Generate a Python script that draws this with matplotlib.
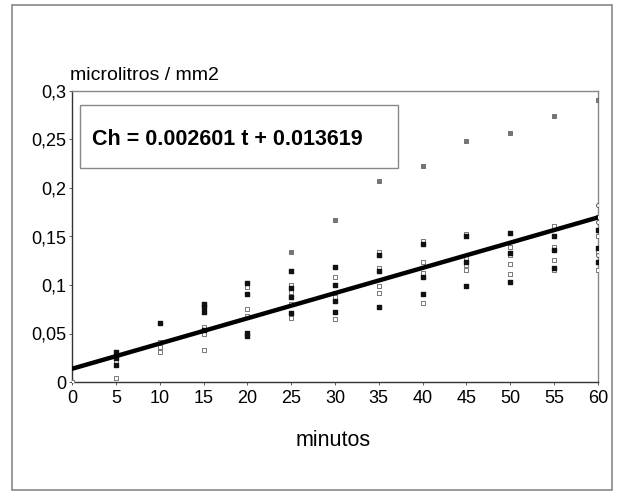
import matplotlib
matplotlib.use("Agg")
import matplotlib.pyplot as plt
import matplotlib.transforms as mtransforms
from matplotlib.patches import Rectangle
import numpy as np

plt.rcParams['font.family'] = ['Liberation Sans', 'DejaVu Sans']

t_filled = [5, 5, 5, 10, 15, 15, 15, 15, 20, 20, 20, 20, 25, 25, 25, 25,
            30, 30, 30, 30, 35, 35, 35, 40, 40, 40, 45, 45, 45,
            50, 50, 50, 55, 55, 55, 60, 60, 60]
v_filled = [0.031, 0.025, 0.018, 0.061, 0.080, 0.077, 0.072, 0.054, 0.102, 0.091, 0.051, 0.047,
            0.114, 0.097, 0.088, 0.071, 0.119, 0.100, 0.084, 0.072, 0.131, 0.114, 0.077,
            0.142, 0.108, 0.091, 0.150, 0.124, 0.099, 0.154, 0.133, 0.103,
            0.150, 0.136, 0.118, 0.157, 0.138, 0.124]

t_open = [0, 5, 5, 5, 10, 10, 10, 15, 15, 15, 20, 20, 20, 25, 25, 25, 25,
          30, 30, 30, 30, 35, 35, 35, 35, 40, 40, 40, 40, 45, 45, 45, 45,
          50, 50, 50, 50, 55, 55, 55, 55, 60, 60, 60, 60]
v_open = [0.0, 0.028, 0.022, 0.004, 0.041, 0.036, 0.031, 0.057, 0.050, 0.033,
          0.098, 0.075, 0.068, 0.100, 0.093, 0.080, 0.066, 0.108, 0.092, 0.088, 0.065,
          0.134, 0.118, 0.099, 0.092, 0.145, 0.124, 0.112, 0.081,
          0.153, 0.128, 0.121, 0.115, 0.139, 0.131, 0.122, 0.111,
          0.161, 0.139, 0.126, 0.115, 0.170, 0.150, 0.134, 0.115]

t_circle = [60, 60, 60]
v_circle = [0.182, 0.165, 0.131]

# outliers (grey filled)
t_high = [25, 30, 35, 40, 45, 50, 55, 60]
v_high = [0.134, 0.167, 0.207, 0.223, 0.248, 0.257, 0.274, 0.291]

slope = 0.002601
intercept = 0.013619

fig = plt.figure(figsize=(6.25, 4.98), dpi=100)
# outer frame around the whole chart
fig.patches.append(Rectangle((12 / 625, 8 / 498), 600 / 625, 485 / 498,
                             transform=fig.transFigure, fill=False,
                             edgecolor='#888888', linewidth=1.2))

ax = fig.add_axes([72 / 625, 116 / 498, 526 / 625, 291 / 498])

ax.scatter(t_open, v_open, s=6, marker='s', facecolor='white', edgecolor='#777777',
           linewidth=0.7, zorder=3)
ax.scatter(t_circle, v_circle, s=8, marker='o', facecolor='white', edgecolor='#555555',
           linewidth=0.7, zorder=3)
ax.scatter(t_filled, v_filled, s=6, marker='s', color='#111111', zorder=3)
ax.scatter(t_high, v_high, s=6, marker='s', facecolor='#777777', edgecolor='#555555',
           linewidth=0.5, zorder=3)

tt = np.array([0, 60])
ax.plot(tt, slope * tt + intercept, color='black', linewidth=3.2, zorder=4)

ax.set_xlim(0, 60)
ax.set_ylim(0, 0.3)
ax.set_xticks(range(0, 61, 5))
yt = [0, 0.05, 0.1, 0.15, 0.2, 0.25, 0.3]
ax.set_yticks(yt)
ax.set_yticklabels(['0', '0,05', '0,1', '0,15', '0,2', '0,25', '0,3'])
ax.tick_params(labelsize=13, length=2, width=0.6, pad=2, color='#444444')
ax.tick_params(axis='x', pad=4)

for s in ['top', 'right']:
    ax.spines[s].set_color('#888888')
    ax.spines[s].set_linewidth(1.0)
for s in ['left', 'bottom']:
    ax.spines[s].set_color('#333333')
    ax.spines[s].set_linewidth(1.0)

fig.text(333 / 625, 1 - 440 / 498, 'minutos', fontsize=15.5, va='center', ha='center')
fig.text(70 / 625, 1 - 76 / 498, 'microlitros / mm2', fontsize=14, va='center', ha='left')

# equation box (x in axes fraction, y in data units)
blend = mtransforms.blended_transform_factory(ax.transAxes, ax.transData)
ax.add_patch(Rectangle((0.015, 0.2206), 0.605, 0.065, transform=blend, fill=False,
                       edgecolor='#888888', linewidth=1.0, zorder=5))
ax.text(0.038, 0.2505, 'Ch = 0.002601 t + 0.013619', transform=blend,
        fontsize=15.5, fontweight='bold', va='center', ha='left', zorder=6)

fig.savefig('out.png', dpi=100)
